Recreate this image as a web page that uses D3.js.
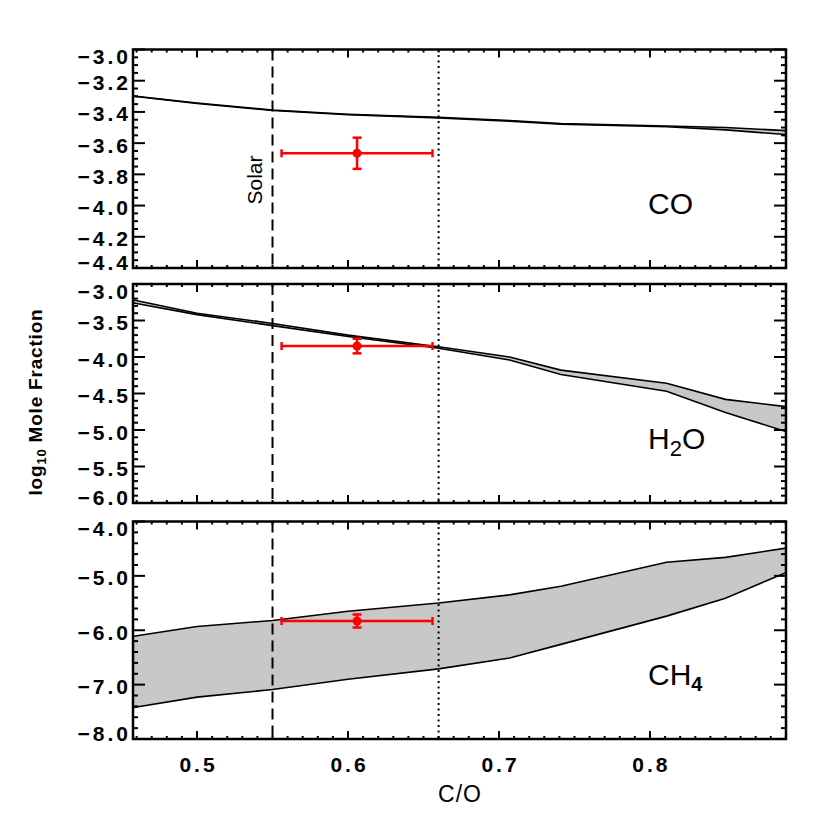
<!DOCTYPE html>
<html>
<head>
<meta charset="utf-8">
<script src="https://cdn.jsdelivr.net/npm/d3@7"></script>
<style>
  body { margin: 0; background: #fff; }
  svg { display: block; }
  text { font-family: "Liberation Sans", Arial, sans-serif; fill: #000; }
</style>
</head>
<body>
<svg width="830" height="830"></svg>
<script>
// model grid in C/O
const coRatio = [0.458, 0.5, 0.55, 0.6, 0.66, 0.707, 0.741, 0.811, 0.85, 0.89];

// envelopes, log10 mole fraction
const coUpper  = [-3.298, -3.343, -3.388, -3.415, -3.435, -3.455, -3.475, -3.49, -3.50, -3.52];
const coLower  = [-3.300, -3.346, -3.391, -3.418, -3.438, -3.459, -3.479, -3.495, -3.515, -3.545];
const h2oUpper = [-3.22, -3.40, -3.54, -3.70, -3.86, -4.00, -4.18, -4.36, -4.58, -4.68];
const h2oLower = [-3.26, -3.42, -3.57, -3.72, -3.88, -4.04, -4.24, -4.47, -4.76, -5.02];
const ch4Upper = [-6.11, -5.93, -5.82, -5.65, -5.50, -5.35, -5.19, -4.75, -4.66, -4.49];
const ch4Lower = [-7.42, -7.23, -7.09, -6.90, -6.71, -6.51, -6.26, -5.74, -5.41, -4.94];

// retrieved abundances (red points)
const obsRatio = 0.606;
const obsRatioErr = [0.556, 0.656];
const obsValues = [-3.665, -3.85, -5.83];
const obsErrors = [0.10, 0.10, 0.12];

const solarRatio = 0.55;
const dottedRatio = 0.66;

const panelNames = ["CO", "H2O", "CH4"];
const yDomains = [[-4.4, -3.0], [-6.0, -3.0], [-8.0, -4.0]];
const yMajor = [0.2, 0.5, 1.0];
const yMinor = [0.05, 0.1, 0.2];
const xTickValues = [0.5, 0.6, 0.7, 0.8];

const svg = d3.select("svg");
const left = 133, right = 786;
const panelBoxes = [[49.5, 268], [284, 503], [521.5, 739]];

const x = d3.scaleLinear().domain([0.4576, 0.8901]).range([left, right]);

function range(a, b, step) {
    let out = [];
    let n = Math.round((b - a) / step);
    for (let i = 0; i <= n; i++) out.push(+(a + i * step).toFixed(4));
    return out;
}

const envelopes = [[coUpper, coLower], [h2oUpper, h2oLower], [ch4Upper, ch4Lower]];

panelBoxes.forEach((box, p) => {
    const y = d3.scaleLinear().domain(yDomains[p]).range([box[1], box[0]]);
    const g = svg.append("g");

    g.append("clipPath").attr("id", "clip" + p)
        .append("rect").attr("x", left).attr("y", box[0])
        .attr("width", right - left).attr("height", box[1] - box[0]);

    const plot = g.append("g").attr("clip-path", `url(#clip${p})`);
    const up = envelopes[p][0], lo = envelopes[p][1];
    const band = coRatio.map((c, i) => ({c: c, u: up[i], l: lo[i]}));

    plot.append("path")
        .datum(band)
        .attr("d", d3.area().x(d => x(d.c)).y0(d => y(d.l)).y1(d => y(d.u)))
        .attr("fill", "#c8c8c8");
    [up, lo].forEach(arr => {
        plot.append("path")
            .datum(coRatio.map((c, i) => [c, arr[i]]))
            .attr("d", d3.line().x(d => x(d[0])).y(d => y(d[1])))
            .attr("fill", "none").attr("stroke", "#000").attr("stroke-width", 1.6);
    });

    // solar and dotted verticals
    g.append("line")
        .attr("x1", x(solarRatio)).attr("x2", x(solarRatio))
        .attr("y1", box[0]).attr("y2", box[1])
        .attr("stroke", "#000").attr("stroke-width", 2).attr("stroke-dasharray", "11,6");
    g.append("line")
        .attr("x1", x(dottedRatio)).attr("x2", x(dottedRatio))
        .attr("y1", box[0]).attr("y2", box[1])
        .attr("stroke", "#000").attr("stroke-width", 2).attr("stroke-dasharray", "2,3.5");

    // red measurement
    const red = "#ff0000";
    const yc = y(obsValues[p]);
    const ya = y(obsValues[p] + obsErrors[p]), yb = y(obsValues[p] - obsErrors[p]);
    g.append("line")
        .attr("x1", x(obsRatioErr[0])).attr("x2", x(obsRatioErr[1]))
        .attr("y1", yc).attr("y2", yc)
        .attr("stroke", red).attr("stroke-width", 2.5);
    obsRatioErr.forEach(v => {
        g.append("line")
            .attr("x1", x(v)).attr("x2", x(v))
            .attr("y1", yc - 4).attr("y2", yc + 4)
            .attr("stroke", red).attr("stroke-width", 2.5);
    });
    g.append("line")
        .attr("x1", x(obsRatio)).attr("x2", x(obsRatio))
        .attr("y1", ya).attr("y2", yb)
        .attr("stroke", red).attr("stroke-width", 2.5);
    [ya, yb].forEach(v => {
        g.append("line")
            .attr("x1", x(obsRatio) - 4.5).attr("x2", x(obsRatio) + 4.5)
            .attr("y1", v).attr("y2", v)
            .attr("stroke", red).attr("stroke-width", 2.5);
    });
    g.append("circle")
        .attr("cx", x(obsRatio)).attr("cy", yc).attr("r", 4.5)
        .attr("fill", red);

    // ticks, inward on all four sides
    const ticks = g.append("g").attr("stroke", "#000").attr("stroke-width", 2);
    const yMaj = range(yDomains[p][0], yDomains[p][1], yMajor[p]);
    const yMin = range(yDomains[p][0], yDomains[p][1], yMinor[p]);
    yMin.forEach(v => {
        let isMajor = yMaj.some(m => Math.abs(m - v) < 1e-6);
        let len = isMajor ? 12 : 5;
        ticks.append("line").attr("x1", left).attr("x2", left + len)
            .attr("y1", y(v)).attr("y2", y(v));
        ticks.append("line").attr("x1", right).attr("x2", right - len)
            .attr("y1", y(v)).attr("y2", y(v));
    });
    const xMin = range(0.46, 0.89, 0.01);
    xMin.forEach(v => {
        let isMajor = xTickValues.some(m => Math.abs(m - v) < 1e-6);
        let len = isMajor ? 8 : 3;
        ticks.append("line").attr("x1", x(v)).attr("x2", x(v))
            .attr("y1", box[0]).attr("y2", box[0] + len);
        ticks.append("line").attr("x1", x(v)).attr("x2", x(v))
            .attr("y1", box[1]).attr("y2", box[1] - len);
    });

    // frame
    g.append("rect")
        .attr("x", left).attr("y", box[0])
        .attr("width", right - left).attr("height", box[1] - box[0])
        .attr("fill", "none").attr("stroke", "#000").attr("stroke-width", 2.5);

    // y tick labels (end labels pulled inside the frame height like IDL does)
    g.selectAll("text.ylab")
        .data(yMaj)
        .enter().append("text")
            .attr("class", "ylab")
            .attr("x", left - 2)
            .attr("y", d => Math.min(Math.max(y(d) + 2, box[0] + 7), box[1] - 6))
            .attr("text-anchor", "end")
            .attr("dominant-baseline", "central")
            .attr("font-size", 21)
            .attr("font-weight", "bold")
            .attr("letter-spacing", 3)
            .text(d => d3.format(".1f")(d).replace("-", "\u2212"));

    // species label
    const lab = g.append("text")
        .attr("x", 648)
        .attr("y", box[1] - 54)
        .attr("font-size", 30);
    if (panelNames[p] === "CO") {
        lab.text("CO");
    } else if (panelNames[p] === "H2O") {
        lab.append("tspan").text("H");
        lab.append("tspan").attr("font-size", 22).attr("dy", 7).text("2");
        lab.append("tspan").attr("dy", -7).text("O");
    } else {
        lab.append("tspan").text("CH");
        lab.append("tspan").attr("font-size", 20).attr("font-weight", "bold").attr("dy", 6).text("4");
    }

    if (p === 0) {
        svg.append("text")
            .attr("transform", `translate(${x(solarRatio) - 11},180) rotate(-90)`)
            .attr("text-anchor", "middle")
            .attr("font-size", 21)
            .text("Solar");
    }

    if (p === 2) {
        svg.selectAll("text.xlab")
            .data(xTickValues)
            .enter().append("text")
                .attr("class", "xlab")
                .attr("x", d => x(d) + 1.5)
                .attr("y", box[1] + 25)
                .attr("text-anchor", "middle")
                .attr("dominant-baseline", "central")
                .attr("font-size", 21)
                .attr("font-weight", "bold")
                .attr("letter-spacing", 3)
                .text(d => d3.format(".1f")(d));
    }
});

svg.append("text")
    .attr("x", 460)
    .attr("y", 802)
    .attr("text-anchor", "middle")
    .attr("font-size", 23)
    .attr("letter-spacing", 1)
    .text("C/O");

const ytitle = svg.append("text")
    .attr("transform", "translate(42,402) rotate(-90)")
    .attr("text-anchor", "middle")
    .attr("font-size", 19)
    .attr("font-weight", "bold")
    .attr("letter-spacing", 0.8);
ytitle.append("tspan").text("log");
ytitle.append("tspan").attr("font-size", 13).attr("dy", 4).text("10");
ytitle.append("tspan").attr("dy", -4).text(" Mole Fraction");
</script>
</body>
</html>
